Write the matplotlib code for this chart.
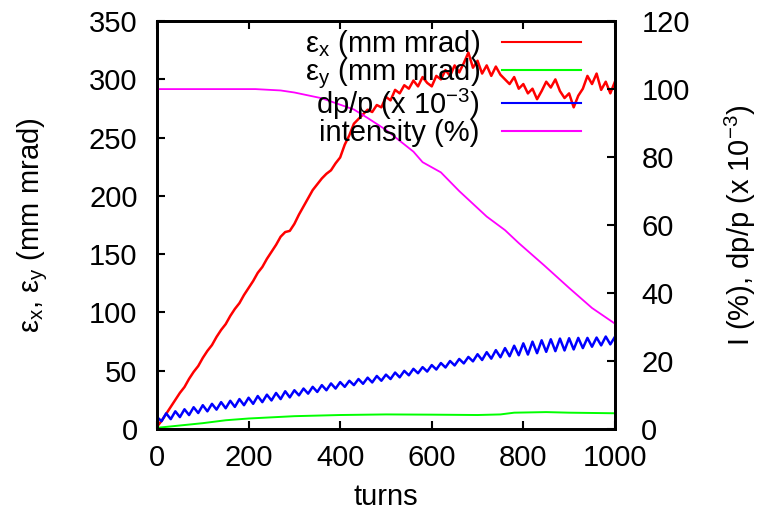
import numpy as np
import matplotlib
matplotlib.use("Agg")
import matplotlib.pyplot as plt

plt.rcParams['font.family'] = ['Liberation Sans', 'DejaVu Sans']
plt.rcParams['mathtext.fontset'] = 'custom'
plt.rcParams['mathtext.rm'] = 'Liberation Sans'
plt.rcParams['mathtext.it'] = 'Liberation Sans'

# ---- data ----
ex_turns = list(range(0, 1001, 10))
ex_vals = [2, 7, 13, 19, 25, 31, 36, 43, 49, 54,
           61, 67, 72, 79, 85, 90, 97, 103, 108, 115,
           121, 127, 134, 139, 146, 152, 158, 165, 169, 170,
           176, 184, 191, 198, 205, 210, 215, 219, 222, 228,
           233, 244, 252, 262, 266, 270, 274, 272, 278, 276,
           285, 282, 291, 288, 295, 292, 299, 294, 302, 297,
           294, 303, 300, 308, 303, 312, 306, 314, 323, 310,
           316, 305, 312, 303, 311, 304, 300, 296, 302, 292,
           296, 288, 292, 283, 290, 298, 293, 300, 290, 284,
           288, 276, 286, 292, 303, 296, 305, 291, 298, 288,
           298]

ey_turns = [0, 50, 100, 150, 200, 250, 300, 400, 500, 600, 700, 750, 780, 850, 900, 1000]
ey_vals = [1, 3, 5, 7.5, 9, 10, 11, 12, 12.5, 12.3, 12, 12.5, 14, 14.5, 14, 13.5]

dpp_turns = list(range(0, 1001, 10))
dpp_vals = [3.5, 2.3, 4.6, 2.9, 5.2, 3.5, 5.8, 4.1, 6.4, 4.7,
            7.0, 5.2, 7.4, 5.7, 7.9, 6.1, 8.3, 6.5, 8.8, 7.0,
            9.2, 7.4, 9.7, 7.9, 10.1, 8.4, 10.6, 8.8, 11.1, 9.3,
            11.4, 9.9, 11.9, 10.4, 12.4, 10.9, 12.9, 11.4, 13.4, 11.9,
            13.8, 12.4, 14.2, 12.9, 14.7, 13.3, 15.1, 13.7, 15.6, 14.2,
            16.0, 14.7, 16.6, 15.2, 17.1, 15.8, 17.7, 16.4, 18.2, 16.9,
            18.8, 17.5, 19.4, 18.1, 20.0, 18.7, 20.6, 19.3, 21.2, 19.9,
            22.0, 20.3, 22.6, 20.7, 23.2, 21.1, 23.8, 21.4, 24.5, 21.7,
            25.2, 21.9, 25.7, 22.3, 26.1, 22.7, 26.4, 22.9, 26.6, 23.1,
            26.7, 23.4, 26.8, 23.8, 26.8, 24.2, 26.9, 24.6, 27.2, 24.9,
            27.1]

int_turns = [0, 100, 215, 270, 300, 360, 430, 460, 500, 560, 580, 620, 660,
             720, 760, 790, 845, 900, 950, 1000]
int_vals = [100, 100, 100, 99.6, 99.0, 97.3, 94, 91.5, 88, 81.6, 78.5, 75.5, 70,
            62.5, 58.5, 54.7, 48.2, 41.5, 35.6, 31]

xticks = [0, 200, 400, 600, 800, 1000]
yticks_left = [0, 50, 100, 150, 200, 250, 300, 350]
yticks_right = [0, 20, 40, 60, 80, 100, 120]

labels = ["ε$_\\mathregular{x}$ (mm mrad)", "ε$_\\mathregular{y}$ (mm mrad)",
          "dp/p (x 10$^\\mathregular{-3}$)", "intensity (%)"]

# ---- figure ----
fig = plt.figure(figsize=(7.67, 5.15), dpi=100)
ax = fig.add_axes([0.2047, 0.167, 0.597, 0.792])
ax2 = ax.twinx()

fs = 21
l1, = ax.plot(ex_turns, ex_vals, color='#ff0000', lw=1.8, label=labels[0])
l2, = ax.plot(ey_turns, ey_vals, color='#00ff00', lw=1.4, label=labels[1])
l3, = ax2.plot(dpp_turns, dpp_vals, color='#0000ff', lw=1.8, label=labels[2])
l4, = ax2.plot(int_turns, int_vals, color='#ff00ff', lw=1.3, label=labels[3])

ax.set_xlim(0, 1000)
ax.set_ylim(0, 350)
ax2.set_ylim(0, 120)
ax.set_xticks(xticks)
ax.set_yticks(yticks_left)
ax2.set_yticks(yticks_right)

for a in (ax, ax2):
    for s in a.spines.values():
        s.set_linewidth(2)
ax.tick_params(axis='x', direction='in', top=True, length=6, width=1.5,
               labelsize=fs, pad=11)
ax.tick_params(axis='y', direction='in', right=False, length=6, width=1.5,
               labelsize=fs, pad=14)
ax2.tick_params(axis='y', direction='in', length=6, width=1.5,
                labelsize=fs, pad=19)

ax.set_xlabel("turns", fontsize=fs, labelpad=8)
ax.set_ylabel("ε$_\\mathregular{x}$, ε$_\\mathregular{y}$ (mm mrad)", fontsize=fs, labelpad=28)
ax2.set_ylabel("I (%), dp/p (x 10$^\\mathregular{-3}$)", fontsize=fs, labelpad=24)

# one legend per row, so the rows are evenly spaced as in the reference
row_y = [0.943, 0.870, 0.797, 0.726]
for i, (line, yy) in enumerate(zip([l1, l2, l3, l4], row_y)):
    leg = ax2.legend(handles=[line], loc='center right',
                     bbox_to_anchor=(0.925, yy), frameon=False, fontsize=fs,
                     markerfirst=False, handlelength=2.7, handletextpad=0.76,
                     borderaxespad=0, borderpad=0)
    for h in leg.get_lines():
        h.set_linewidth(1.5)
    if i < 3:
        ax2.add_artist(leg)

fig.savefig("out.png", dpi=100, facecolor='white')
